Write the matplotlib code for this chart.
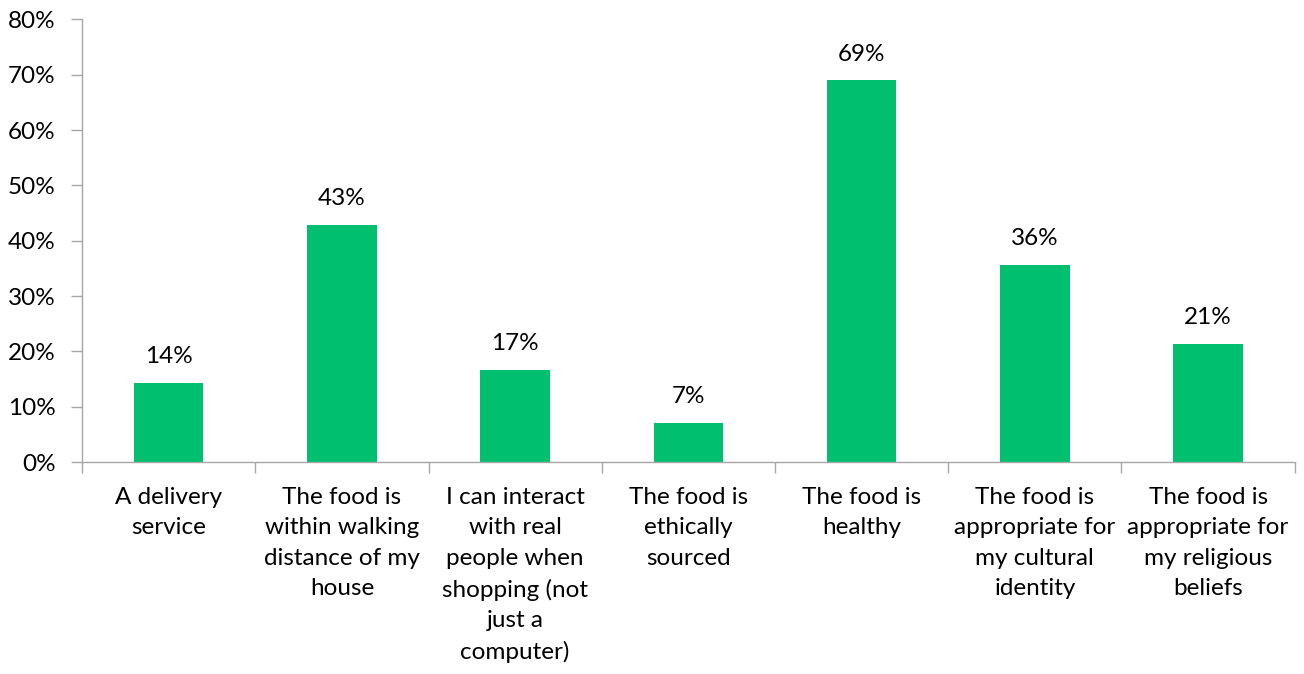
import matplotlib.pyplot as plt
import numpy as np
from matplotlib.ticker import FixedLocator, PercentFormatter

plt.rcParams['font.family'] = ['Lato', 'DejaVu Sans']

# Survey answers and share of respondents (%)
categories = [
    'A delivery\nservice',
    'The food is\nwithin walking\ndistance of my\nhouse',
    'I can interact\nwith real\npeople when\nshopping (not\njust a\ncomputer)',
    'The food is\nethically\nsourced',
    'The food is\nhealthy',
    'The food is\nappropriate for\nmy cultural\nidentity',
    'The food is\nappropriate for\nmy religious\nbeliefs',
]
values = [14.3, 42.9, 16.7, 7.1, 69.0, 35.7, 21.4]
yticks = [0, 10, 20, 30, 40, 50, 60, 70, 80]

green = '#00BF6F'
axis_grey = '#A6A6A6'
fs = 17.5

fig = plt.figure(figsize=(13.04, 6.74), dpi=100)
ax = fig.add_axes([0.0629, 0.3145, 0.930, 0.6566])

x = np.arange(len(categories))
ax.bar(x, values, width=0.4, color=green, edgecolor='none')

# value labels above each bar
for xi, v in zip(x, values):
    ax.annotate(f'{v:.0f}%', (xi, v), xytext=(0, 14), textcoords='offset points',
                ha='center', va='baseline', fontsize=fs, color='black')

ax.set_xlim(-0.5, len(categories) - 0.5)
ax.set_ylim(0, 80)
ax.set_yticks(yticks)
ax.yaxis.set_major_formatter(PercentFormatter(decimals=0))

# labels centred under bars, tick marks between categories
ax.set_xticks(x)
ax.set_xticklabels(categories, fontsize=fs, linespacing=1.55, color='black')
ax.xaxis.set_minor_locator(FixedLocator(np.arange(-0.5, len(categories), 1)))
ax.tick_params(axis='x', which='major', length=0, pad=18)
ax.tick_params(axis='x', which='minor', length=8, width=1, color=axis_grey, direction='out')
ax.tick_params(axis='y', length=8, width=1, color=axis_grey, direction='out',
               labelsize=fs, pad=11)

for side in ['top', 'right']:
    ax.spines[side].set_visible(False)
for side in ['left', 'bottom']:
    ax.spines[side].set_color(axis_grey)
    ax.spines[side].set_linewidth(1)

fig.savefig('out.png', dpi=100)
